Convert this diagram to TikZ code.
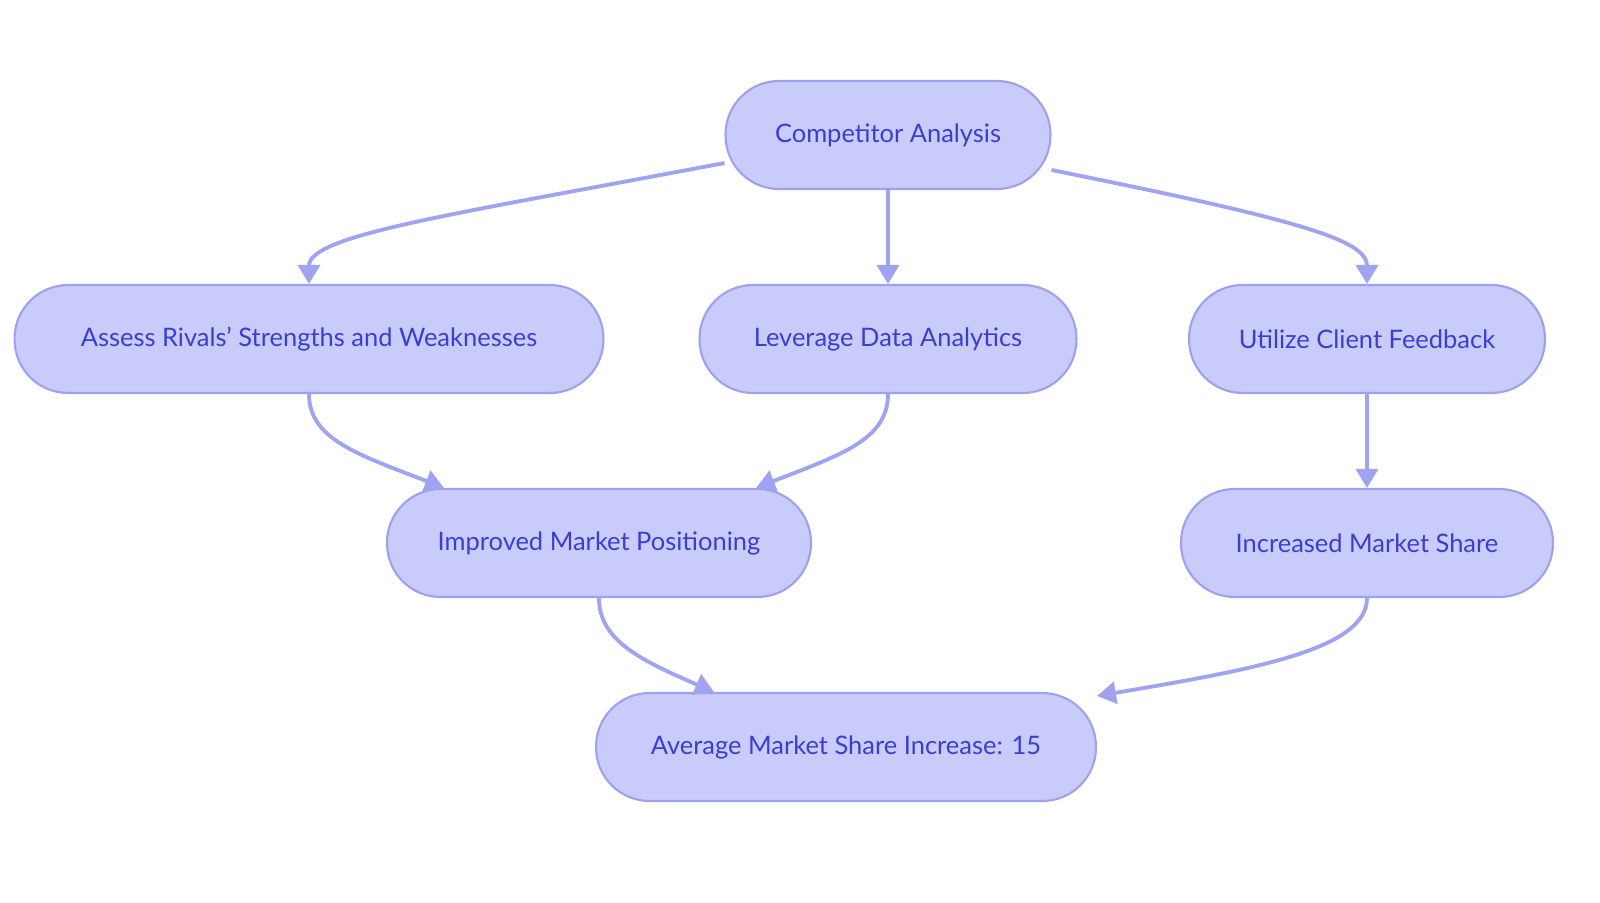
\documentclass[tikz,border=0pt]{standalone}
\usepackage{fontspec}
\setmainfont{Lato}
\usetikzlibrary{arrows.meta,calc}
\definecolor{nfill}{HTML}{C9CBFB}
\definecolor{nline}{HTML}{9EA2EE}
\definecolor{ntext}{HTML}{3A3FCF}
\definecolor{eline}{HTML}{A0A4F0}
\begin{document}
\begin{tikzpicture}[x=0.02cm,y=-0.02cm,
  box/.style={draw=nline,fill=nfill,line width=1.2pt,rounded corners=1.07cm,minimum height=2.16cm,text=ntext,font=\fontsize{14.5}{17}\selectfont,inner sep=0pt},
  edge/.style={draw=eline,line width=2.2pt,-{Triangle[length=0.38cm,width=0.44cm]}}]
\useasboundingbox (0,0) rectangle (1600,903);
\node[box,minimum width=6.5cm] (ca) at (888,135) {Competitor Analysis};
\node[box,minimum width=11.78cm] (ar) at (309,339) {Assess Rivals’ Strengths and Weaknesses};
\node[box,minimum width=7.54cm] (ld) at (888,339) {Leverage Data Analytics};
\node[box,minimum width=7.12cm] (uc) at (1367,339) {Utilize Client Feedback};
\node[box,minimum width=8.48cm] (im) at (599,543) {Improved Market Positioning};
\node[box,minimum width=7.44cm] (ic) at (1367,543) {Increased Market Share};
\node[box,minimum width=10cm] (av) at (846,747) {Average Market Share Increase: 15};
\draw[edge] ($(ca.west)+(0,28)$) .. controls (450,215) and (309,235) .. (ar.north);
\draw[edge] (ca.south) -- (ld.north);
\draw[edge] ($(ca.east)+(0,35)$) .. controls (1300,220) and (1367,240) .. (uc.north);
\draw[edge] (ar.south) .. controls (309,440) and (360,455) .. ($(im.north west)+(58,0)$);
\draw[edge] (ld.south) .. controls (888,440) and (840,455) .. ($(im.north east)+(-56,0)$);
\draw[edge] (uc.south) -- (ic.north);
\draw[edge] (im.south) .. controls (599,640) and (640,660) .. ($(av.north west)+(119,0)$);
\draw[edge] (ic.south) .. controls (1367,650) and (1250,670) .. ($(av.north east)+(0,4)$);
\end{tikzpicture}
\end{document}
